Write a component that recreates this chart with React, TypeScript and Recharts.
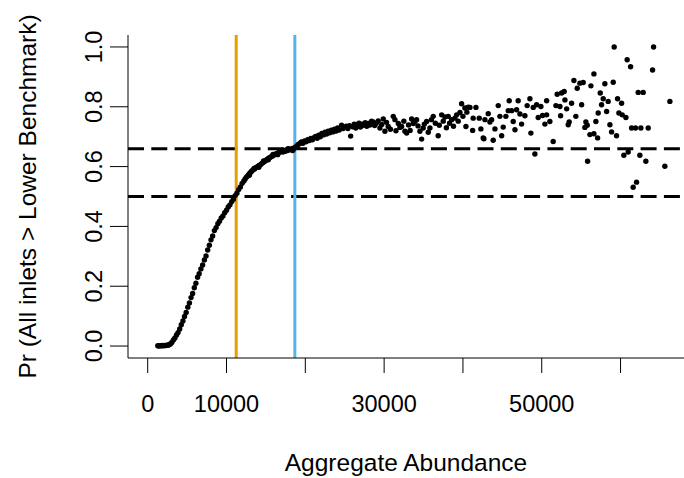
import { ScatterChart, Scatter, XAxis, YAxis, ReferenceLine } from "recharts";

const FONT = "'Liberation Sans', Arial, sans-serif";

// sigmoid part of the curve (abundance, probability)
const rampAbundance = [
  1280, 1420, 1570, 1730, 1860, 2010, 2170, 2300, 2460, 2610, 2740, 2880, 3060, 3260, 3450, 3660,
  3850, 4060, 4260, 4470, 4670, 4880, 5090, 5290, 5500, 5700, 5910, 6120, 6330, 6530, 6750, 6970,
  7190, 7400, 7610, 7820, 8030, 8240, 8460, 8680, 8900, 9110, 9330, 9550, 9770, 10000, 10220, 10440,
  10660, 10880, 11100, 11320, 11540, 11760, 11980, 12200,
  12350, 12500, 12650, 12800, 12950, 13100, 13250, 13400, 13550, 13700, 13850, 14000, 14150, 14300,
  14450, 14600, 14750, 14900, 15050, 15200, 15350, 15500, 15650, 15800, 15950, 16100, 16250, 16400,
  16550, 16700, 16850, 17000, 17150, 17300, 17450, 17600, 17750, 17900, 18050, 18200, 18350, 18500,
  18650, 18800, 18950, 12900, 13500, 14100, 14700, 15300, 15900, 16500, 17100, 17800, 18400,
];
const rampPr = [
  0.001, 0.0, 0.001, 0.001, 0.002, 0.001, 0.002, 0.002, 0.003, 0.003, 0.005, 0.007, 0.012, 0.02, 0.027, 0.037,
  0.045, 0.057, 0.071, 0.084, 0.099, 0.112, 0.13, 0.144, 0.162, 0.176, 0.195, 0.21, 0.23, 0.242, 0.258, 0.271,
  0.288, 0.301, 0.321, 0.337, 0.355, 0.368, 0.386, 0.396, 0.409, 0.417, 0.428, 0.435, 0.446, 0.454, 0.465, 0.472,
  0.483, 0.491, 0.503, 0.511, 0.523, 0.532, 0.544, 0.552,
  0.558, 0.564, 0.568, 0.573, 0.578, 0.582, 0.586, 0.59, 0.592, 0.596, 0.598, 0.601, 0.604, 0.606,
  0.61, 0.613, 0.616, 0.619, 0.622, 0.625, 0.628, 0.63, 0.633, 0.635, 0.638, 0.64, 0.642, 0.644,
  0.646, 0.648, 0.65, 0.652, 0.649, 0.654, 0.651, 0.656, 0.654, 0.657, 0.658, 0.656, 0.661, 0.659,
  0.663, 0.666, 0.669, 0.571, 0.594, 0.598, 0.619, 0.623, 0.641, 0.64, 0.655, 0.66, 0.654,
];

// levelling-off band
const plateauAbundance = [
  19100, 19300, 19500, 19700, 19900, 20100, 20300, 20500, 20700, 20900, 21100, 21300, 21500, 21700,
  21900, 22100, 22300, 22500, 22700, 22900, 23100, 23300, 23500, 23700, 23900, 24100, 24300, 24600,
  24800, 25000, 25200, 25400, 25600, 25750, 26000, 26200, 26400, 26600, 26800, 27000, 27200, 27350,
  27600, 27800, 28000, 28200, 28400, 28600, 28800, 29000, 29250,
];
const plateauPr = [
  0.674, 0.677, 0.682, 0.678, 0.686, 0.683, 0.69, 0.687, 0.694, 0.69, 0.697, 0.701, 0.695, 0.705,
  0.7, 0.711, 0.706, 0.715, 0.709, 0.718, 0.713, 0.722, 0.716, 0.725, 0.719, 0.729, 0.722, 0.738,
  0.727, 0.732, 0.735, 0.727, 0.737, 0.702, 0.733, 0.742, 0.729, 0.739, 0.745, 0.732, 0.742, 0.738,
  0.747, 0.735, 0.744, 0.739, 0.752, 0.749, 0.737, 0.745, 0.753,
];

// noisy tail at high abundance
const tailAbundance = [
  29470, 29700, 29890, 30100, 30300, 30520, 30800, 31160, 31370, 31500, 31800, 32000, 32220, 32500,
  32640, 32860, 33100, 33300, 33490, 33700, 33910, 34120, 34300, 34540, 34760, 34960, 35100, 35390,
  35600, 35810, 36000, 36230, 36500, 36860, 37000, 37300, 37500, 37710, 37900, 38130, 38300, 38560,
  38800, 38980, 39200, 39400, 39620, 39830, 40000, 40250, 40380, 40500, 40670,
  40890, 41230, 41300, 41650, 42070, 42280, 42570, 42660, 42790, 43210, 43420, 43640, 43840, 44060,
  44480, 44690, 44910, 45110, 45450, 45750, 45870, 46180, 46380, 46600, 46810, 47010, 47230, 47440,
  47860, 48150, 48500, 48620, 48920, 49130, 49350, 49550, 49890, 50110, 50400, 50620, 50620, 51030,
  51450, 51800, 51960, 52310, 52390, 52520, 52850, 52940, 53160, 53360, 53480, 53790, 54080, 54330,
  54500, 54840, 55060, 55260, 55470, 55600, 55770, 55820, 56110, 56240, 56620, 56620, 56870, 57090,
  57160, 57420, 57590, 57800, 58010, 58230, 58430, 58650, 58860, 59070, 59190, 59490, 59620, 59790,
  60130, 60210, 60420, 60680, 60840, 60970, 61270, 61400, 61600, 61900, 62030, 62240, 62450, 62580,
  62870, 63210, 63510, 64060, 64190, 65620, 66260,
];
const tailPr = [
  0.729, 0.741, 0.759, 0.718, 0.748, 0.734, 0.725, 0.768, 0.757, 0.72, 0.744, 0.731, 0.734, 0.752,
  0.718, 0.712, 0.739, 0.721, 0.759, 0.744, 0.751, 0.757, 0.736, 0.718, 0.692, 0.729, 0.742, 0.751,
  0.715, 0.729, 0.757, 0.768, 0.745, 0.703, 0.738, 0.773, 0.752, 0.766, 0.73, 0.768, 0.745, 0.757,
  0.735, 0.762, 0.773, 0.752, 0.781, 0.81, 0.768, 0.796, 0.734, 0.782, 0.799,
  0.798, 0.721, 0.762, 0.798, 0.762, 0.726, 0.696, 0.693, 0.757, 0.777, 0.749, 0.757, 0.688, 0.726,
  0.804, 0.768, 0.703, 0.732, 0.768, 0.787, 0.82, 0.787, 0.751, 0.723, 0.79, 0.82, 0.776, 0.742,
  0.77, 0.804, 0.827, 0.712, 0.798, 0.642, 0.807, 0.764, 0.801, 0.771, 0.742, 0.773, 0.82, 0.751,
  0.684, 0.804, 0.842, 0.801, 0.77, 0.846, 0.851, 0.823, 0.793, 0.74, 0.749, 0.812, 0.888, 0.768,
  0.862, 0.879, 0.807, 0.881, 0.731, 0.749, 0.738, 0.618, 0.707, 0.87, 0.71, 0.91, 0.751, 0.696,
  0.779, 0.846, 0.807, 0.827, 0.877, 0.784, 0.818, 0.74, 0.716, 0.882, 1.0, 0.703, 0.827, 0.779,
  0.812, 0.773, 0.638, 0.764, 0.957, 0.649, 0.934, 0.729, 0.531, 0.729, 0.548, 0.848, 0.638, 0.729,
  0.848, 0.618, 0.729, 0.923, 1.0, 0.601, 0.818,
];

const xTicks = [0, 10000, 20000, 30000, 40000, 50000, 60000];
const xTickLabels = ["0", "10000", "", "30000", "", "50000", ""];
const yTicks = [0, 0.2, 0.4, 0.6, 0.8, 1.0];
const yTickLabels = ["0.0", "0.2", "0.4", "0.6", "0.8", "1.0"];
const benchmarks = [0.5, 0.66];
const lowerCutoff = 11230;
const upperCutoff = 18670;

const xDomain = [-2500, 68050];
const yDomain = [-0.04, 1.04];

const data = [
  ...rampAbundance.map((a, i) => ({ abundance: a, pr: rampPr[i] })),
  ...plateauAbundance.map((a, i) => ({ abundance: a, pr: plateauPr[i] })),
  ...tailAbundance.map((a, i) => ({ abundance: a, pr: tailPr[i] })),
];

const XTick = (props: any) => {
  const { x, y, payload } = props;
  const label = xTickLabels[xTicks.indexOf(payload.value)] ?? "";
  return (
    <text x={x} y={y} dy={16.5} textAnchor="middle" fontSize={23.5} fontFamily={FONT} fill="#000">
      {label}
    </text>
  );
};

const YTick = (props: any) => {
  const { x, y, payload } = props;
  const label = yTickLabels[yTicks.indexOf(payload.value)] ?? "";
  return (
    <text
      transform={`translate(${x},${y}) rotate(-90)`}
      textAnchor="middle"
      fontSize={23.5}
      fontFamily={FONT}
      fill="#000"
    >
      {label}
    </text>
  );
};

const Dot = (props: any) => <circle cx={props.cx} cy={props.cy} r={2.7} fill="#000" />;

export default function App() {
  return (
    <div style={{ position: "absolute", left: 0, top: 0, background: "#fff" }}>
      <ScatterChart width={684} height={478} margin={{ top: 35, right: 0, bottom: 0, left: 0 }}>
        <XAxis
          xAxisId="top"
          orientation="top"
          type="number"
          domain={xDomain}
          allowDataOverflow
          height={0}
          tick={false}
          tickLine={false}
          axisLine={{ stroke: "#000", strokeWidth: 1 }}
        />
        <XAxis
          dataKey="abundance"
          type="number"
          domain={xDomain}
          allowDataOverflow
          ticks={xTicks}
          interval={0}
          height={120}
          tickSize={15}
          tickMargin={22}
          tickLine={{ stroke: "#000", strokeWidth: 1 }}
          axisLine={{ stroke: "#000", strokeWidth: 1 }}
          tick={<XTick />}
          label={{
            content: (p: any) => {
              const vb = p.viewBox || { x: 128, y: 358, width: 556, height: 120 };
              return (
                <text
                  x={vb.x + vb.width / 2}
                  y={vb.y + 112.5}
                  textAnchor="middle"
                  fontSize={24.5}
                  fontFamily={FONT}
                  fill="#000"
                >
                  Aggregate Abundance
                </text>
              );
            },
          }}
        />
        <YAxis
          dataKey="pr"
          type="number"
          domain={yDomain}
          allowDataOverflow
          ticks={yTicks}
          interval={0}
          width={128}
          tickSize={18}
          tickMargin={8}
          tickLine={{ stroke: "#000", strokeWidth: 1 }}
          axisLine={{ stroke: "#000", strokeWidth: 1 }}
          tick={<YTick />}
          label={{
            content: (p: any) => {
              const vb = p.viewBox || { x: 0, y: 35, width: 128, height: 323 };
              return (
                <text
                  transform={`translate(36,${vb.y + vb.height / 2}) rotate(-90)`}
                  textAnchor="middle"
                  fontSize={24.5}
                  fontFamily={FONT}
                  fill="#000"
                >
                  Pr (All inlets &gt; Lower Benchmark)
                </text>
              );
            },
          }}
        />
        <Scatter data={data} shape={<Dot />} isAnimationActive={false} />
        {benchmarks.map((b) => (
          <ReferenceLine key={b} y={b} stroke="#000" strokeWidth={3} strokeDasharray="16 7.3" />
        ))}
        <ReferenceLine x={lowerCutoff} stroke="#E69F00" strokeWidth={3} />
        <ReferenceLine x={upperCutoff} stroke="#56B4E9" strokeWidth={3} />
      </ScatterChart>
    </div>
  );
}
